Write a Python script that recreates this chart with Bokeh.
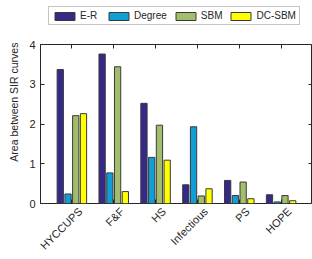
import math
from bokeh.plotting import figure
from bokeh.layouts import column
from bokeh.models import (ColumnDataSource, FixedTicker, LinearAxis, Legend, LegendItem,
                          Range1d)
from bokeh.transform import dodge
from bokeh.embed import file_html
from bokeh.resources import INLINE

datasets = ["HYCCUPS", "F&F", "HS", "Infectious", "PS", "HOPE"]
er = [3.37, 3.76, 2.52, 0.47, 0.58, 0.22]
degree = [0.24, 0.77, 1.16, 1.93, 0.20, 0.04]
sbm = [2.21, 3.44, 1.97, 0.19, 0.54, 0.20]
dcsbm = [2.26, 0.30, 1.09, 0.37, 0.12, 0.07]
series_names = ["E-R", "Degree", "SBM", "DC-SBM"]
colors = ["#352A87", "#0F9FD6", "#A3BE6B", "#FFFF00"]
y_ticks = [0, 1, 2, 3, 4]
y_label = "Area between SIR curves"

pos = list(range(1, len(datasets) + 1))
src = ColumnDataSource(dict(x=pos, er=er, degree=degree, sbm=sbm, dcsbm=dcsbm))
cols = ["er", "degree", "sbm", "dcsbm"]

FONT = "Liberation Sans"
TXT = "#262626"
EDGE = "#3a3a3a"
XR = (0.25, 6.75)
YR = (0, 4)

# ---- main plot ----
p = figure(width=312, height=223, output_backend="svg", toolbar_location=None,
           x_range=Range1d(*XR), y_range=Range1d(*YR),
           x_axis_location=None, y_axis_location=None,
           min_border_left=40, min_border_right=0, min_border_top=8, min_border_bottom=56)
p.xgrid.visible = False
p.ygrid.visible = False
p.outline_line_color = TXT
p.background_fill_color = "white"
p.border_fill_color = "white"
p.extra_x_ranges = {"lab": Range1d(XR[0] - 0.2, XR[1] - 0.2)}

offsets = [-0.2775, -0.0925, 0.0925, 0.2775]
for c, off, col in zip(cols, offsets, colors):
    p.vbar(x=dodge("x", off, range=p.x_range), top=c, width=0.15, source=src,
           fill_color=col, line_color=EDGE, line_width=1)

def tick_axis(ticks, loc):
    return LinearAxis(ticker=FixedTicker(ticks=ticks), fixed_location=loc,
                      major_label_overrides={t: "" for t in ticks},
                      major_label_text_font_size="1px", major_label_standoff=0,
                      major_tick_in=4, major_tick_out=0, minor_tick_line_color=None,
                      axis_line_color=None, major_tick_line_color=TXT)

p.add_layout(tick_axis(pos, YR[0]), "below")
p.add_layout(tick_axis(pos, YR[1]), "above")
p.add_layout(tick_axis(y_ticks, XR[1]), "right")

# category labels, rotated
lab = LinearAxis(x_range_name="lab", ticker=FixedTicker(ticks=pos),
                 major_label_overrides={i: n for i, n in zip(pos, datasets)},
                 major_label_orientation=math.pi / 4,
                 major_label_text_font=FONT, major_label_text_font_size="11px",
                 major_label_text_color=TXT, major_label_standoff=6,
                 axis_line_color=None, major_tick_line_color=None,
                 minor_tick_line_color=None, major_tick_in=0, major_tick_out=0)
p.add_layout(lab, "below")

# label sits above the frame centre, as in the reference (non-breaking-space lead-in)
ya = LinearAxis(ticker=FixedTicker(ticks=y_ticks), axis_label="\u00a0" * 15 + y_label,
                major_tick_in=4, major_tick_out=0, minor_tick_line_color=None,
                axis_line_color=TXT, major_tick_line_color=TXT,
                major_label_text_font=FONT, major_label_text_font_size="11px",
                major_label_text_color=TXT, major_label_standoff=5,
                axis_label_standoff=6, axis_label_text_font=FONT,
                axis_label_text_font_size="10.5px", axis_label_text_font_style="normal",
                axis_label_text_color=TXT)
p.add_layout(ya, "left")

# ---- legend strip ----
lf = figure(width=312, height=36, output_backend="svg", toolbar_location=None,
            x_range=Range1d(-20, -19), y_range=Range1d(-20, -19),
            x_axis_location=None, y_axis_location=None,
            min_border=0, outline_line_color=None)
lf.xgrid.visible = False
lf.ygrid.visible = False
items = []
for n, c, col in zip(series_names, cols, colors):
    r = lf.vbar(x="x", top=c, width=0.15, source=src,
                fill_color=col, line_color=EDGE, line_width=1)
    items.append(LegendItem(label=n, renderers=[r]))
legend = Legend(items=items, orientation="horizontal", location=(8, 11),
                glyph_width=25, glyph_height=10, label_standoff=3, spacing=6,
                padding=3, margin=0, border_line_color="#8c8c8c",
                label_text_font=FONT, label_text_font_size="10px",
                label_text_color=TXT, label_height=10)
lf.add_layout(legend, "center")

layout = column(lf, p, spacing=0)
open("out.html", "w").write(file_html(layout, INLINE))
